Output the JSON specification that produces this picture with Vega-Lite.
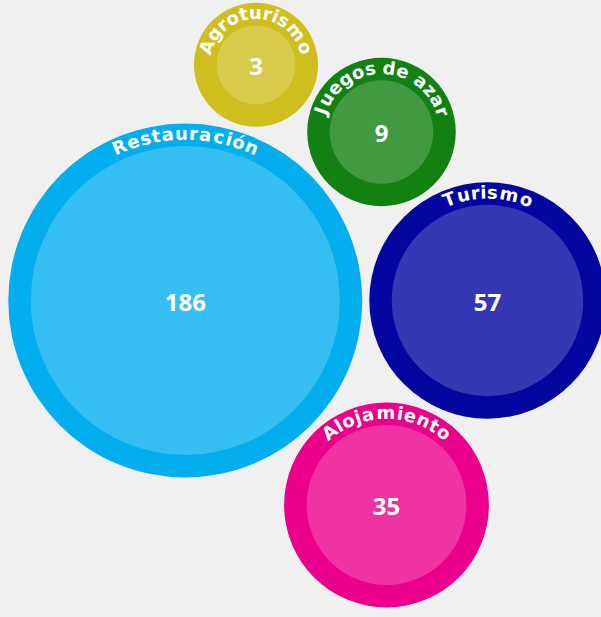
{
  "$schema": "https://vega.github.io/schema/vega-lite/v6.json",
  "width": 601,
  "height": 617,
  "autosize": "none",
  "padding": 0,
  "background": "#f0f0f0",
  "config": {"view": {"stroke": null}},
  "data": {
    "values": [
      {"name": "Restauración", "value": 186, "cx": 185.3, "cy": 300.5},
      {"name": "Turismo", "value": 57, "cx": 487.5, "cy": 300.5},
      {"name": "Alojamiento", "value": 35, "cx": 386.5, "cy": 505},
      {"name": "Juegos de azar", "value": 9, "cx": 381.5, "cy": 132},
      {"name": "Agroturismo", "value": 3, "cx": 256, "cy": 64.7}
    ]
  },
  "encoding": {
    "x": {"field": "cx", "type": "quantitative", "scale": {"domain": [0, 601], "nice": false, "zero": false}, "axis": null},
    "y": {"field": "cy", "type": "quantitative", "scale": {"domain": [0, 617], "nice": false, "zero": false, "reverse": true}, "axis": null}
  },
  "layer": [
    {
      "mark": {"type": "arc", "theta": 0, "theta2": 6.2832},
      "encoding": {
        "color": {
          "field": "name",
          "type": "nominal",
          "scale": {
            "domain": ["Restauración", "Turismo", "Alojamiento", "Juegos de azar", "Agroturismo"],
            "range": ["#03aeee", "#0307a0", "#eb008b", "#128112", "#cfbe1e"]
          },
          "legend": null
        },
        "radius": {"field": "value", "type": "quantitative", "stack": null, "scale": {"type": "sqrt", "domain": [3, 186], "range": [62, 177], "zero": false}},
        "radius2": {"value": 0}
      }
    },
    {
      "mark": {"type": "arc", "theta": 0, "theta2": 6.2832, "fill": "#ffffff", "fillOpacity": 0.2},
      "encoding": {
        "radius": {"field": "value", "type": "quantitative", "stack": null, "scale": {"type": "sqrt", "domain": [3, 186], "range": [39.5, 154.5], "zero": false}},
        "radius2": {"value": 0}
      }
    },
    {
      "mark": {"type": "text", "font": "Open Sans", "fontWeight": "bold", "fontSize": 24, "color": "#ffffff", "align": "center", "baseline": "middle", "dy": 3},
      "encoding": {
        "text": {"field": "value", "type": "quantitative"}
      }
    },
    {
      "transform": [
        {"calculate": "split(datum.name, '')", "as": "chars"},
        {"calculate": "sequence(0, length(datum.name))", "as": "idx"},
        {"flatten": ["chars", "idx"], "as": ["ch", "i"]},
        {"calculate": "indexof('iljI', datum.ch) >= 0 ? 0.3 : indexof('rtf', datum.ch) >= 0 ? 0.44 : datum.ch == 'm' ? 1.0 : datum.ch == ' ' ? 0.28 : indexof('sz', datum.ch) >= 0 ? 0.52 : indexof('RAT', datum.ch) >= 0 ? 0.7 : datum.ch == 'J' ? 0.5 : 0.63", "as": "w"},
        {"window": [{"op": "sum", "field": "w", "as": "cum"}], "groupby": ["name"], "sort": [{"field": "i"}], "frame": [null, 0]},
        {"joinaggregate": [{"op": "sum", "field": "w", "as": "tot"}], "groupby": ["name"]},
        {"calculate": "22 * (datum.cum - datum.w / 2 - datum.tot / 2) / (34.05 + 9.66 * sqrt(datum.value))", "as": "th"},
        {"calculate": "datum.th * 180 / PI", "as": "deg"}
      ],
      "mark": {"type": "text", "font": "DejaVu Sans", "fontWeight": "bold", "fontSize": 18, "color": "#ffffff", "align": "center", "baseline": "middle"},
      "encoding": {
        "text": {"field": "ch", "type": "nominal"},
        "theta": {"field": "th", "type": "quantitative", "scale": null, "stack": null},
        "radius": {"field": "value", "type": "quantitative", "stack": null, "scale": {"type": "sqrt", "domain": [3, 186], "range": [50.75, 165.75], "zero": false}},
        "angle": {"field": "deg", "type": "quantitative", "scale": null}
      }
    }
  ],
  "resolve": {"scale": {"radius": "independent", "color": "independent"}}
}
